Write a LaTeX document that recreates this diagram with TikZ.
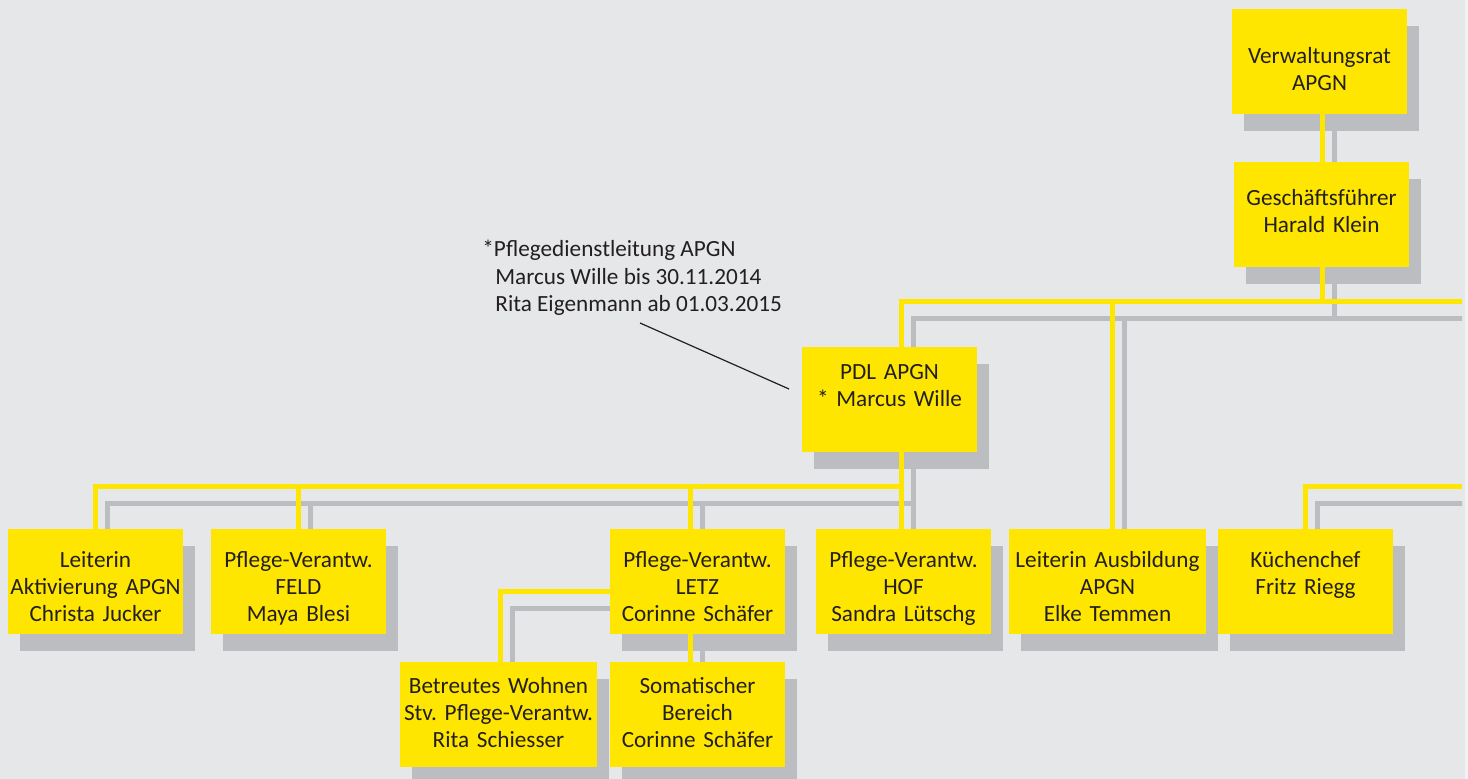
\documentclass[tikz,border=0pt]{standalone}
\usepackage{fontspec}
\setmainfont{Carlito}
\usetikzlibrary{calc}
\pgfdeclarelayer{bglayer}
\pgfdeclarelayer{glines}
\pgfdeclarelayer{shadows}
\pgfdeclarelayer{ylines}
\pgfsetlayers{bglayer,glines,shadows,ylines,main}
\definecolor{ygelb}{HTML}{FFE600}
\definecolor{bgc}{HTML}{E6E7E9}
\definecolor{shc}{HTML}{BCBDC0}
\definecolor{txc}{HTML}{231F20}
\definecolor{stripc}{HTML}{F2F2F2}
\tikzset{
  orgbox/.style={fill=ygelb, inner sep=0pt, outer sep=0pt, align=center,
    text width=87.5pt, text=txc, font=\fontsize{11.6}{13.5}\selectfont, anchor=north west},
  widebox/.style={text width=98.5pt},
  rowbox/.style={text height=19.5pt, text depth=33pt},
  lowbox/.style={text height=16pt, text depth=36.5pt},
  yline/.style={draw=ygelb, line width=2.5pt},
  gline/.style={draw=shc, line width=2.5pt},
  noteline/.style={draw=txc, line width=0.6pt},
}
\newcommand\orgconn[1]{%
  \begin{pgfonlayer}{glines}\begin{scope}\clip (0,0) rectangle (1462,779);%
  \draw[gline,transform canvas={shift={(12,17)}}] #1;\end{scope}\end{pgfonlayer}%
  \begin{pgfonlayer}{ylines}\draw[yline] #1;\end{pgfonlayer}}
\newcommand\orgshadow[1]{%
  \begin{pgfonlayer}{shadows}\fill[shc] ($(#1.south west)+(12,17)$) rectangle ($(#1.north east)+(12,17)$);\end{pgfonlayer}}
\begin{document}
\frenchspacing
\begin{tikzpicture}[x=0.5pt,y=-0.5pt]
\useasboundingbox (0,0) rectangle (1468,779);
\begin{pgfonlayer}{bglayer}
  \fill[bgc] (0,0) rectangle (1465,779);
  \fill[stripc] (1465,0) rectangle (1468,779);
\end{pgfonlayer}

% boxes
\node[orgbox, text height=27.2pt, text depth=25.3pt] (vr) at (1232,9) {Verwaltungsrat\\APGN};
\node[orgbox, text height=22pt, text depth=30.5pt] (gf) at (1234,162) {Geschäftsführer\\Harald Klein};
\node[orgbox, text height=16.5pt, text depth=36pt] (pdl) at (802,347) {PDL APGN\\{}* Marcus Wille};
\node[orgbox,rowbox] (akt) at (8,529) {Leiterin\\\mbox{Aktivierung APGN}\\Christa Jucker};
\node[orgbox,rowbox] (feld) at (211,529) {\mbox{Pflege-Verantw.}\\FELD\\Maya Blesi};
\node[orgbox,rowbox] (letz) at (610,529) {\mbox{Pflege-Verantw.}\\LETZ\\Corinne Schäfer};
\node[orgbox,rowbox] (hof) at (816,529) {\mbox{Pflege-Verantw.}\\HOF\\Sandra Lütschg};
\node[orgbox,rowbox,widebox] (ausb) at (1009,529) {\mbox{Leiterin Ausbildung}\\APGN\\Elke Temmen};
\node[orgbox,rowbox] (kuech) at (1218,529) {Küchenchef\\Fritz Riegg};
\node[orgbox,lowbox,widebox] (betr) at (400,662) {\mbox{Betreutes Wohnen}\\\mbox{Stv. Pflege-Verantw.}\\Rita Schiesser};
\node[orgbox,lowbox] (soma) at (610,662) {Somatischer\\Bereich\\Corinne Schäfer};

% shadows
\orgshadow{vr}\orgshadow{gf}\orgshadow{pdl}\orgshadow{akt}\orgshadow{feld}
\orgshadow{letz}\orgshadow{hof}\orgshadow{ausb}\orgshadow{kuech}\orgshadow{betr}\orgshadow{soma}

% connector helpers
\coordinate (xtop) at (1322.5,0);
\coordinate (xpdl) at (901.5,0);
\coordinate (xausb) at (1112.5,0);
\coordinate (xletz) at (690.5,0);
\coordinate (xbetr) at (500.5,0);
\coordinate (busTop) at (1462,301.5);
\coordinate (busMid) at (901.5,486.5);
\coordinate (busK) at (1462,486.5);
\coordinate (yletz) at (0,591.5);

\orgconn{(vr.south -| xtop) -- (gf.north -| xtop)}
\orgconn{(gf.south -| xtop) -- (busTop -| xtop)}
\orgconn{(pdl.north -| xpdl) |- (busTop)}
\orgconn{(ausb.north -| xausb) -- (busTop -| xausb)}
\orgconn{(pdl.south -| xpdl) -- (hof.north -| xpdl)}
\orgconn{(akt.north) |- (busMid)}
\orgconn{(feld.north) -- (feld.north |- busMid)}
\orgconn{(letz.north -| xletz) -- (busMid -| xletz)}
\orgconn{(kuech.north) |- (busK)}
\orgconn{(letz.west |- yletz) -| (betr.north -| xbetr)}
\orgconn{(letz.south -| xletz) -- (soma.north -| xletz)}

% annotation
\node[anchor=base west, align=left, inner sep=0pt, text=txc, font=\fontsize{11.6}{13.75}\selectfont] (note) at (482,311.7)
  {*Pflegedienstleitung APGN\\\hspace*{6.5pt}Marcus Wille bis 30.11.2014\\\hspace*{6.5pt}Rita Eigenmann ab 01.03.2015};
\coordinate (ntail) at (640,323);
\coordinate (ntip) at ($(pdl.west)+(-13,-10.5)$);
\draw[noteline] (ntail) -- (ntip);
\end{tikzpicture}
\end{document}
